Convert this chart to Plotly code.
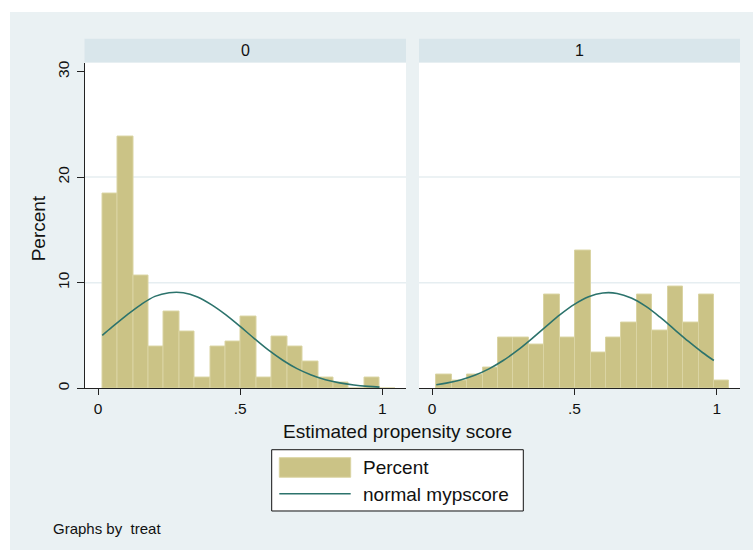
import plotly.graph_objects as go

W, H = 753, 552

# ---------------- data ----------------
bin_start = 0.0151
bin_width = 0.0542

pct_treat0 = [18.4, 23.8, 10.7, 3.9, 7.3, 5.4, 1.0, 3.9, 4.4, 6.8,
              1.0, 4.9, 3.9, 2.5, 1.0, 0.5, 0.0, 1.0, 0.0]
pct_treat1 = [1.3, 0.7, 1.3, 2.0, 4.8, 4.8, 4.1, 8.9, 4.8, 13.0,
              3.4, 4.8, 6.2, 8.9, 5.5, 9.6, 6.2, 8.9, 0.7]

curve_x0 = [0.015, 0.05, 0.10, 0.15, 0.20, 0.25, 0.30, 0.35, 0.40, 0.45, 0.50,
            0.55, 0.60, 0.65, 0.70, 0.75, 0.80, 0.85, 0.90, 0.95, 0.99]
curve_y0 = [5.0, 5.8, 6.9, 7.9, 8.7, 9.05, 9.05, 8.65, 7.9, 6.95, 5.85,
            4.7, 3.6, 2.65, 1.85, 1.25, 0.8, 0.5, 0.3, 0.17, 0.1]
curve_x1 = [0.015, 0.05, 0.10, 0.15, 0.20, 0.25, 0.30, 0.35, 0.40, 0.45, 0.50,
            0.55, 0.60, 0.65, 0.70, 0.75, 0.80, 0.85, 0.90, 0.95, 0.99]
curve_y1 = [0.33, 0.48, 0.78, 1.22, 1.83, 2.62, 3.58, 4.68, 5.84, 6.97, 7.94,
            8.66, 9.02, 8.98, 8.54, 7.77, 6.75, 5.6, 4.45, 3.38, 2.62]

panel_labels = ["0", "1"]
x_tickvals = [0, 0.5, 1]
x_ticktext = ["0", ".5", "1"]
y_tickvals = [0, 10, 20, 30]
y_ticktext = ["0", "10", "20", "30"]
grid_vals = [10, 20]

# ---------------- styles ----------------
BG = "#EAF1F3"
STRIP = "#D9E6EB"
BAR = "#CBC386"
BAR_LINE = "#DAD4A3"
CURVE = "#2C736C"
GRID = "#E6EEF1"
FONT = "Liberation Sans, Arial, sans-serif"

def px(x):
    return x / W

def py(y):
    return 1 - y / H

P1 = (84.5, 406.0)
P2 = (419.0, 740.0)
TOP, BOT = 61.0, 389.0

centers = [bin_start + (i + 0.5) * bin_width for i in range(len(pct_treat0))]

fig = go.Figure()
fig.add_trace(go.Bar(x=centers, y=pct_treat0, width=bin_width, marker_color=BAR,
                     marker_line=dict(color=BAR_LINE, width=1), xaxis="x", yaxis="y",
                     name="Percent", showlegend=False))
fig.add_trace(go.Scatter(x=curve_x0, y=curve_y0, mode="lines", line=dict(color=CURVE, width=1.6, shape="spline"),
                         xaxis="x", yaxis="y", name="normal mypscore", showlegend=False))
fig.add_trace(go.Bar(x=centers, y=pct_treat1, width=bin_width, marker_color=BAR,
                     marker_line=dict(color=BAR_LINE, width=1), xaxis="x2", yaxis="y2",
                     name="Percent", showlegend=False))
fig.add_trace(go.Scatter(x=curve_x1, y=curve_y1, mode="lines", line=dict(color=CURVE, width=1.6, shape="spline"),
                         xaxis="x2", yaxis="y2", name="normal mypscore", showlegend=False))

xr1 = [(P1[0] - 98) / 284.3, (P1[1] - 98) / 284.3]
xr2 = [(P2[0] - 432) / 284.7, (P2[1] - 432) / 284.7]
yr = [0, (BOT - TOP) / 10.63]

xcommon = dict(tickvals=x_tickvals, ticktext=x_ticktext, ticks="outside", ticklen=6,
               tickcolor="#222", tickwidth=1, showline=True, linecolor="#222", linewidth=1,
               showgrid=False, zeroline=False, tickfont=dict(family=FONT, size=15.5, color="#111"),
               fixedrange=True)

shapes = []
# outer background
shapes.append(dict(type="rect", xref="paper", yref="paper", x0=px(10), x1=1, y0=0, y1=py(10),
                   fillcolor=BG, line=dict(width=0), layer="below"))
for (l, r) in (P1, P2):
    shapes.append(dict(type="rect", xref="paper", yref="paper", x0=px(l), x1=px(r), y0=py(BOT), y1=py(TOP),
                       fillcolor="white", line=dict(width=0), layer="below"))
    shapes.append(dict(type="rect", xref="paper", yref="paper", x0=px(l), x1=px(r), y0=py(TOP), y1=py(37),
                       fillcolor=STRIP, line=dict(width=0), layer="below"))
for ax in ("x", "x2"):
    yref = "y" if ax == "x" else "y2"
    for g in grid_vals:
        shapes.append(dict(type="line", xref=ax + " domain", yref=yref, x0=0, x1=1, y0=g, y1=g,
                           line=dict(color=GRID, width=1.5), layer="below"))

# legend (drawn by hand: box, swatches)
shapes.append(dict(type="rect", xref="paper", yref="paper", x0=px(271.7), x1=px(523.3), y0=py(512.7), y1=py(451),
                   fillcolor="white", line=dict(color="#111", width=1)))
shapes.append(dict(type="rect", xref="paper", yref="paper", x0=px(279.3), x1=px(350.7), y0=py(478.7), y1=py(459),
                   fillcolor=BAR, line=dict(color=BAR_LINE, width=1)))
shapes.append(dict(type="line", xref="paper", yref="paper", x0=px(279.3), x1=px(350.7), y0=py(495.3), y1=py(495.3),
                   line=dict(color=CURVE, width=1.6)))

ann = []
for lab, (l, r) in zip(panel_labels, (P1, P2)):
    ann.append(dict(text=lab, x=px((l + r) / 2), y=py(49), xref="paper", yref="paper", showarrow=False,
                    xanchor="center", yanchor="middle", font=dict(family=FONT, size=16, color="#111")))
ann.append(dict(text="Percent", x=px(38), y=py(228), xref="paper", yref="paper", showarrow=False, textangle=-90,
                xanchor="center", yanchor="middle", font=dict(family=FONT, size=19, color="#111")))
ann.append(dict(text="Estimated propensity score", x=px(397.5), y=py(433), xref="paper", yref="paper",
                showarrow=False, xanchor="center", yanchor="middle", font=dict(family=FONT, size=19, color="#111")))
ann.append(dict(text="Percent", x=px(361), y=py(469), xref="paper", yref="paper", showarrow=False,
                xanchor="left", yanchor="middle", font=dict(family=FONT, size=19, color="#111")))
ann.append(dict(text="normal mypscore", x=px(361), y=py(496), xref="paper", yref="paper", showarrow=False,
                xanchor="left", yanchor="middle", font=dict(family=FONT, size=19, color="#111")))
ann.append(dict(text="Graphs by\u00a0 treat", x=px(50.5), y=py(530), xref="paper", yref="paper", showarrow=False,
                xanchor="left", yanchor="middle", font=dict(family=FONT, size=15, color="#111")))

x1 = dict(xcommon); x1.update(domain=[px(P1[0]), px(P1[1])], range=xr1, anchor="y")
x2 = dict(xcommon); x2.update(domain=[px(P2[0]), px(P2[1])], range=xr2, anchor="y2")

fig.update_layout(
    width=W, height=H, margin=dict(l=0, r=0, t=0, b=0),
    paper_bgcolor="white", plot_bgcolor="rgba(0,0,0,0)",
    showlegend=False, bargap=0,
    xaxis=x1, xaxis2=x2,
    yaxis=dict(domain=[py(BOT), py(TOP)], range=yr, tickvals=y_tickvals, ticktext=y_ticktext,
               tickangle=-90, ticks="outside", ticklen=6.5, tickcolor="#222", showline=True,
               linecolor="#222", linewidth=1, showgrid=False, zeroline=False, anchor="x",
               ticklabelstandoff=2,
               tickfont=dict(family=FONT, size=15.5, color="#111"), fixedrange=True),
    yaxis2=dict(domain=[py(BOT), py(TOP)], range=yr, showticklabels=False, ticks="", showline=False,
                showgrid=False, zeroline=False, anchor="x2", fixedrange=True),
    shapes=shapes, annotations=ann,
)

fig.write_html("out.html", config={"displayModeBar": False})
